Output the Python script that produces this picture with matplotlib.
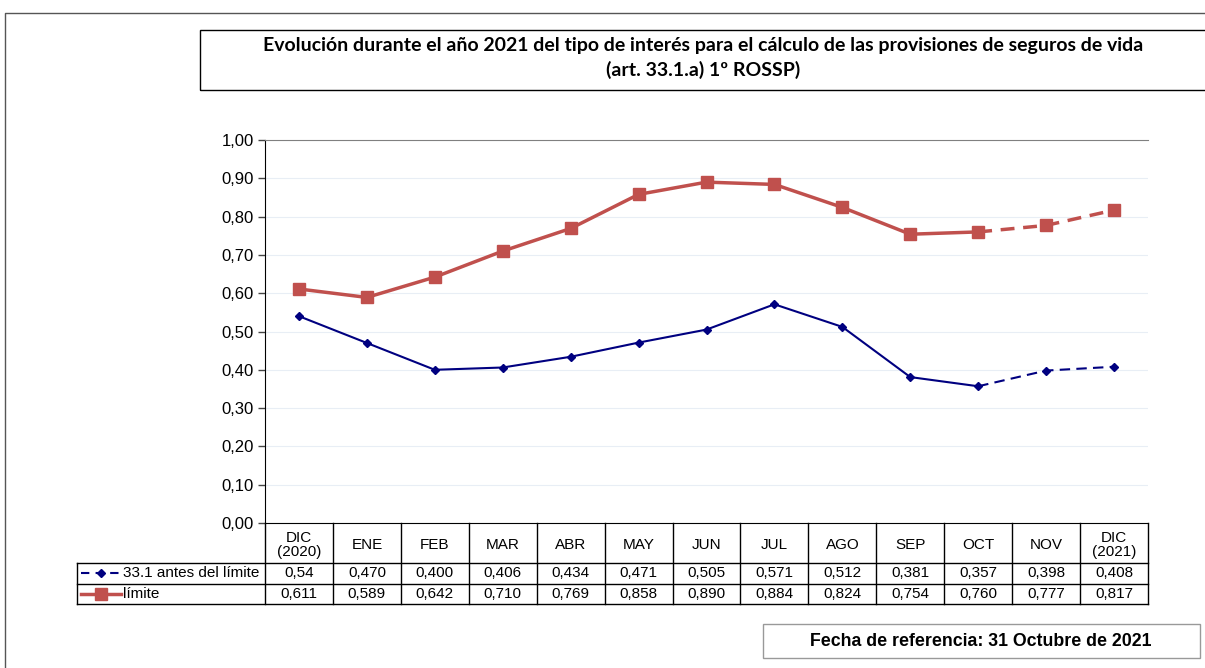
import matplotlib.pyplot as plt
from matplotlib.lines import Line2D
from matplotlib.patches import Rectangle
from matplotlib.transforms import blended_transform_factory

months = ['DIC\n(2020)', 'ENE', 'FEB', 'MAR', 'ABR', 'MAY', 'JUN', 'JUL',
          'AGO', 'SEP', 'OCT', 'NOV', 'DIC\n(2021)']
antes = [0.54, 0.470, 0.400, 0.406, 0.434, 0.471, 0.505, 0.571, 0.512, 0.381, 0.357, 0.398, 0.408]
antes_txt = ['0,54', '0,470', '0,400', '0,406', '0,434', '0,471', '0,505', '0,571',
             '0,512', '0,381', '0,357', '0,398', '0,408']
limite = [0.611, 0.589, 0.642, 0.710, 0.769, 0.858, 0.890, 0.884, 0.824, 0.754, 0.760, 0.777, 0.817]
limite_txt = ['0,611', '0,589', '0,642', '0,710', '0,769', '0,858', '0,890', '0,884',
              '0,824', '0,754', '0,760', '0,777', '0,817']
yticks = [0.0, 0.1, 0.2, 0.3, 0.4, 0.5, 0.6, 0.7, 0.8, 0.9, 1.0]
n_solid = 11  # hasta OCT real, luego estimacion discontinua

plt.rcParams['font.family'] = ['Liberation Sans', 'DejaVu Sans']

W, H = 1205, 668
fig = plt.figure(figsize=(W / 100, H / 100), dpi=100)


def fx(px):
    return px / W


def fy(py):
    return 1 - py / H


ax = fig.add_axes([fx(265), fy(523), fx(1148) - fx(265), fy(140) - fy(523)])

x = list(range(len(months)))
red = '#C0504D'
blue = '#000080'

ax.plot(x[:n_solid], limite[:n_solid], color=red, lw=2.5, marker='s', ms=8, zorder=3)
ax.plot(x[n_solid - 1:], limite[n_solid - 1:], color=red, lw=2.5, ls=(0, (4, 2.5)),
        marker='s', ms=8, markevery=[1, 2], zorder=3)
ax.plot(x[:n_solid], antes[:n_solid], color=blue, lw=1.5, marker='D', ms=4.5, zorder=3)
ax.plot(x[n_solid - 1:], antes[n_solid - 1:], color=blue, lw=1.5, ls=(0, (5, 3)),
        marker='D', ms=4.5, markevery=[1, 2], zorder=3)

ax.set_xlim(-0.5, len(months) - 0.5)
ax.set_ylim(0, 1)
ax.set_yticks(yticks)
ax.set_yticklabels([f'{v:.2f}'.replace('.', ',') for v in yticks], fontsize=12)
ax.set_xticks([])
ax.grid(axis='y', color='#E8EEF5', lw=0.8)
ax.set_axisbelow(True)
ax.tick_params(axis='y', length=5, width=1, color='#444444', pad=3)
ax.spines['right'].set_visible(False)
ax.spines['top'].set_color('#808080')
ax.spines['left'].set_color('black')
ax.spines['bottom'].set_color('black')

# tabla de datos bajo el eje
tr = blended_transform_factory(ax.transData, ax.transAxes)
ah = 523 - 140
h_head = 40 / ah
h_row = 20.5 / ah
y1 = -h_head
y2 = y1 - h_row
y3 = y2 - h_row
lc = dict(color='black', lw=1, clip_on=False)
for i in range(len(months) + 1):
    ax.plot([i - 0.5, i - 0.5], [0, y3], transform=tr, **lc)
leg_x = (77 - 265) / (1148 - 265)
for yy in [y1, y2, y3]:
    ax.plot([leg_x, 1], [yy, yy], transform=ax.transAxes, **lc)
ax.plot([leg_x, leg_x], [y1, y3], transform=ax.transAxes, **lc)

for i, m in enumerate(months):
    ax.text(i, -h_head / 2 - 0.004, m, transform=tr, ha='center', va='center', fontsize=11,
            linespacing=1.0)
    ax.text(i, (y1 + y2) / 2, antes_txt[i], transform=tr, ha='center', va='center', fontsize=11)
    ax.text(i, (y2 + y3) / 2, limite_txt[i], transform=tr, ha='center', va='center', fontsize=11)

# leyenda dentro de la tabla
lx0 = leg_x + 4 / 883
lx1 = leg_x + 44 / 883
ym1 = (y1 + y2) / 2
ym2 = (y2 + y3) / 2
ax.add_line(Line2D([lx0, (lx0 + lx1) / 2, lx1], [ym1] * 3, transform=ax.transAxes, color=blue,
                   lw=1.5, ls=(0, (4, 3)), marker='D', ms=4.5, markevery=[1], clip_on=False))
ax.add_line(Line2D([lx0, (lx0 + lx1) / 2, lx1], [ym2] * 3, transform=ax.transAxes, color=red,
                   lw=2.5, marker='s', ms=8, markevery=[1], clip_on=False))
ax.text(lx1 + 2 / 883, ym1, '33.1 antes del límite', transform=ax.transAxes, va='center',
        fontsize=11)
ax.text(lx1 + 2 / 883, ym2, 'límite', transform=ax.transAxes, va='center', fontsize=11)

# marco exterior
fig.add_artist(Line2D([fx(5), fx(5), fx(1205)], [fy(668), fy(13), fy(13)], color='#555555', lw=1))

# titulo
fig.add_artist(Rectangle((fx(200), fy(90)), fx(1210) - fx(200), fy(30) - fy(90),
                         fill=False, ec='black', lw=1))
fig.text(fx(703), fy(58), 'Evolución durante el año 2021 del tipo de interés para el cálculo de las '
         'provisiones de seguros de vida\n(art. 33.1.a) 1º ROSSP)', ha='center', va='center',
         fontsize=14, fontweight='bold', family=['Lato', 'DejaVu Sans'], linespacing=1.4)

# fecha de referencia
fig.add_artist(Rectangle((fx(763), fy(658)), fx(1200) - fx(763), fy(624) - fy(658),
                         fill=False, ec='#999999', lw=1))
fig.text(fx(981), fy(641), 'Fecha de referencia: 31 Octubre de 2021', ha='center', va='center',
         fontsize=12.8, fontweight='bold')

fig.savefig('out.png', dpi=100)
